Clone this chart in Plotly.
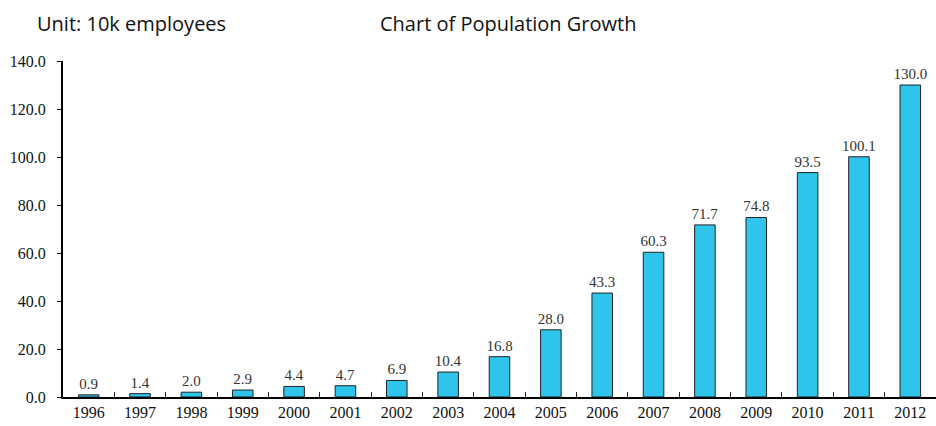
import plotly.graph_objects as go

years = ["1996", "1997", "1998", "1999", "2000", "2001", "2002", "2003", "2004",
         "2005", "2006", "2007", "2008", "2009", "2010", "2011", "2012"]
employees = [0.9, 1.4, 2.0, 2.9, 4.4, 4.7, 6.9, 10.4, 16.8,
             28.0, 43.3, 60.3, 71.7, 74.8, 93.5, 100.1, 130.0]
y_ticks = [0, 20, 40, 60, 80, 100, 120, 140]

fig = go.Figure()
fig.add_trace(
    go.Bar(
        x=years,
        y=employees,
        width=0.4,
        marker=dict(color="#2EC4EC", line=dict(color="#222222", width=1)),
        text=[f"{v:.1f}" for v in employees],
        textposition="outside",
        constraintext="none",
        cliponaxis=False,
        textfont=dict(family="Liberation Serif", size=15, color="#333333"),
    )
)
# empty trace so the separator-tick axis gets drawn
fig.add_trace(go.Scatter(x=[], y=[], xaxis="x2", yaxis="y", showlegend=False,
                         hoverinfo="skip"))

n = len(years)
fig.update_layout(
    width=936,
    height=426,
    margin=dict(l=63, r=0, t=61, b=29),
    plot_bgcolor="white",
    paper_bgcolor="white",
    showlegend=False,
    xaxis=dict(
        type="category",
        showline=True, linecolor="black", linewidth=2,
        ticks="", showgrid=False,
        tickfont=dict(family="Liberation Serif", size=16, color="#111111"),
    ),
    # category separators along the baseline
    xaxis2=dict(
        overlaying="x", side="bottom", anchor="y",
        range=[-0.5, n - 0.5],
        tickvals=[i + 0.5 for i in range(n - 1)],
        showticklabels=False, ticks="inside", ticklen=5,
        tickcolor="#222222", tickwidth=1,
        showgrid=False, zeroline=False, showline=False,
    ),
    yaxis=dict(
        range=[0, 140],
        tickvals=y_ticks,
        ticktext=[f"{v:.1f}" for v in y_ticks],
        showline=True, linecolor="black", linewidth=2,
        ticks="outside", ticklen=4, tickcolor="black", tickwidth=1,
        ticklabelstandoff=8,
        tickfont=dict(family="Liberation Serif", size=16, color="#111111"),
        showgrid=False, zeroline=False,
    ),
    annotations=[
        dict(text="Unit: 10k employees", xref="paper", yref="paper",
             x=-0.032, y=1.065, xanchor="left", yanchor="bottom", showarrow=False,
             font=dict(family="Open Sans", size=20, color="#111111")),
        dict(text="Chart of Population Growth", xref="paper", yref="paper",
             x=0.51, y=1.065, xanchor="center", yanchor="bottom", showarrow=False,
             font=dict(family="Open Sans", size=20, color="#111111")),
    ],
)

fig.write_html("out.html")
